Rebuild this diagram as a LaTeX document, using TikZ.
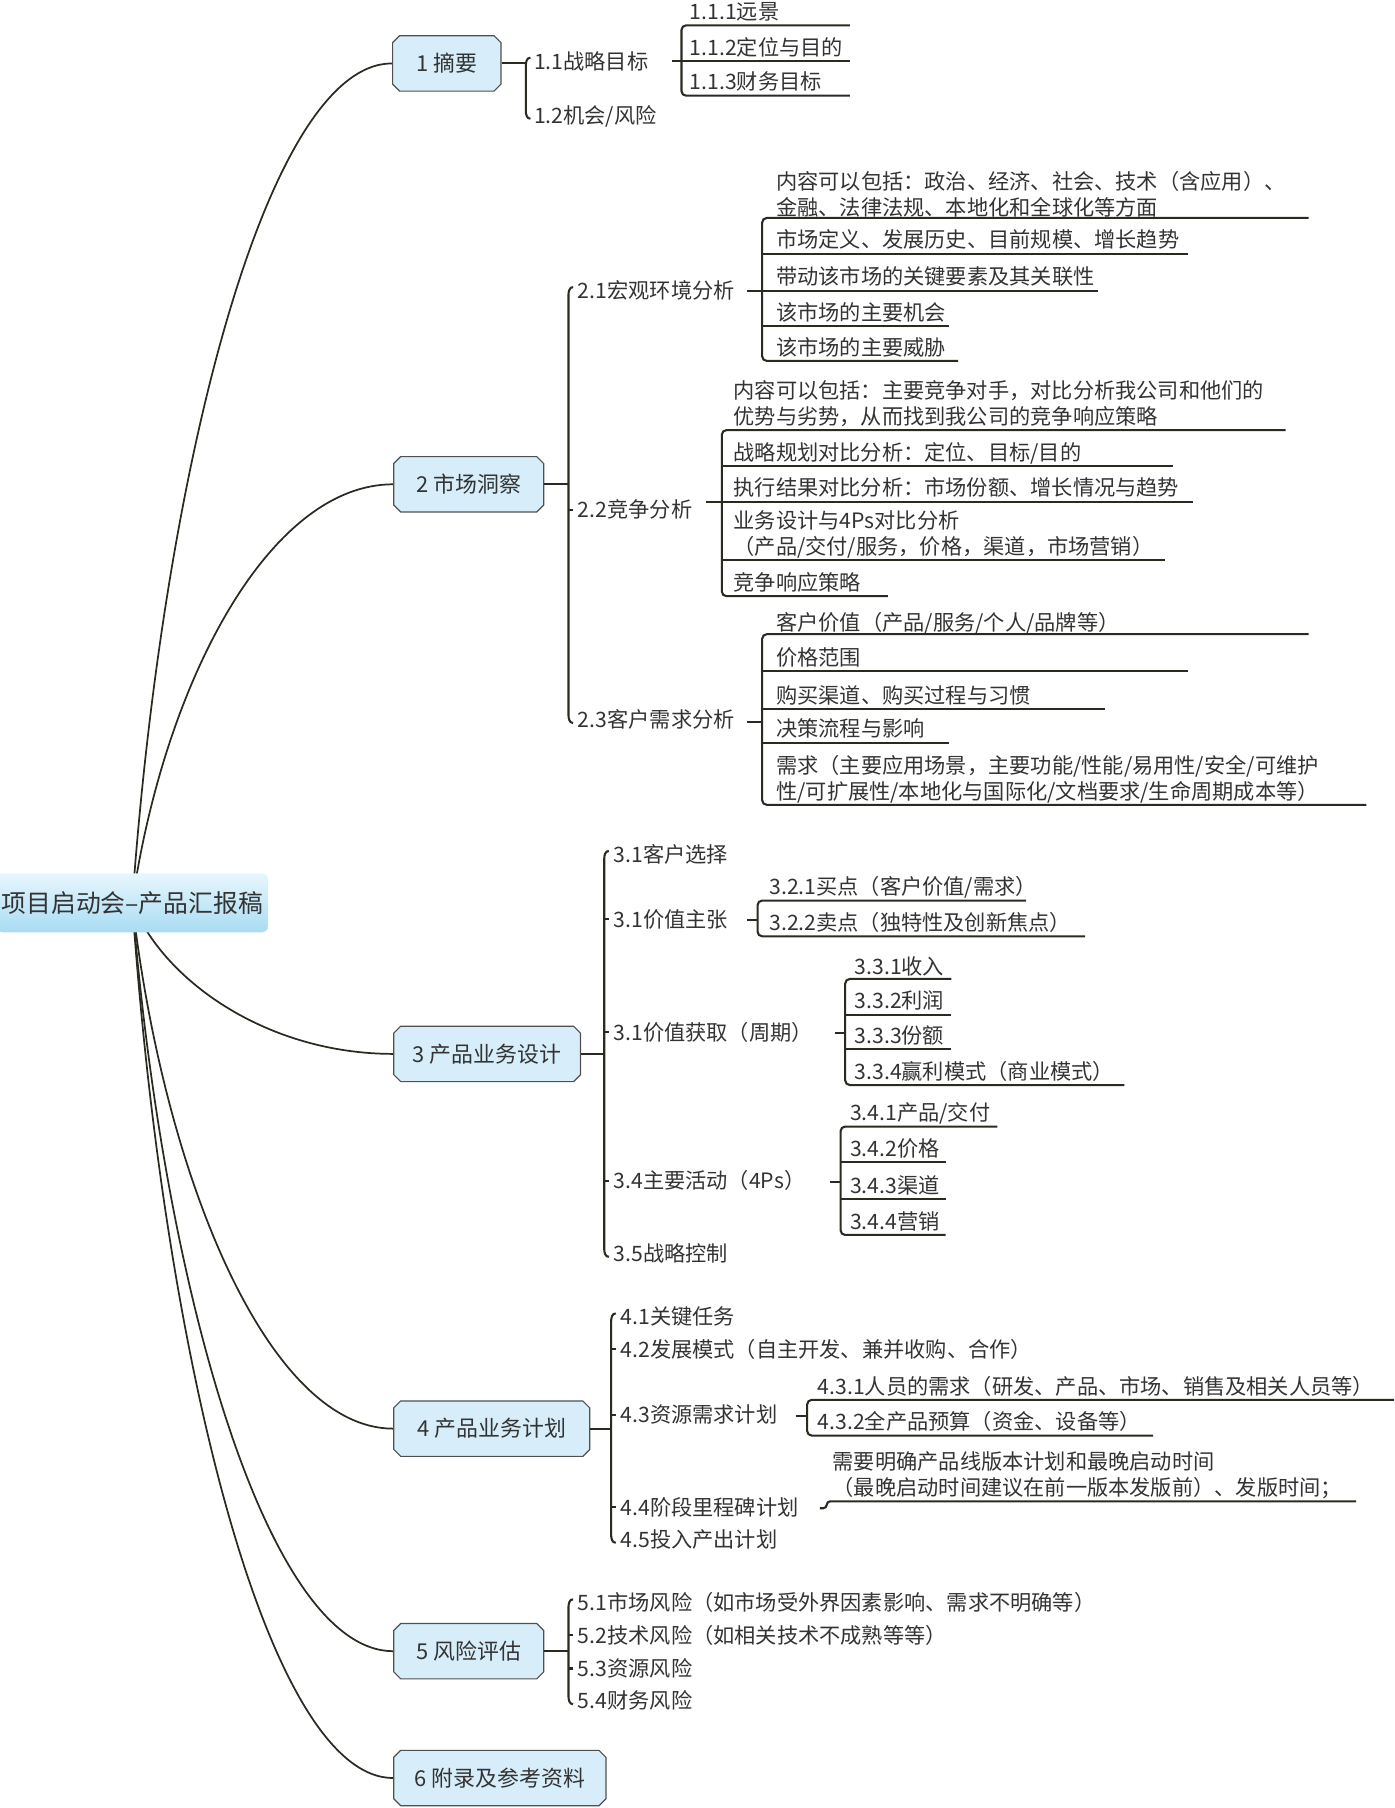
\documentclass[tikz,border=0pt]{standalone}
\usepackage{fontspec}
\setmainfont{Noto Sans CJK SC}
\usetikzlibrary{calc,shapes.misc,backgrounds}
\definecolor{ink}{HTML}{2B2A20}
\definecolor{txt}{HTML}{333333}
\definecolor{boxfill}{HTML}{D7EEFA}
\definecolor{boxline}{HTML}{505050}
\definecolor{roottop}{HTML}{E8F6FD}
\definecolor{rootbot}{HTML}{A8DCF3}
\newcommand\fs{\fontsize{18.4}{22}\selectfont}
\newcommand\twol[2]{\begin{tabular}[b]{@{}l@{}}#1\\#2\end{tabular}}
\newcommand\curlspine[3]{\draw[br] (#1+4,#2-3) to[out=180,in=90] (#1,#2+4) -- (#1,#3-4) to[out=-90,in=180] (#1+4,#3+3);}
\newcommand\rootcurve[1]{\draw[curve] let \p1=(root.center), \p2=(#1.west) in (\p1) .. controls ({\x1+0.12*(\x2-\x1)},{\y1+0.52*(\y2-\y1)}) and ({\x1+0.52*(\x2-\x1)},\y2) .. (\p2);}
\tikzset{
  curve/.style={draw=ink, line width=1.5pt},
  br/.style={draw=ink, line width=1.8pt},
  ul/.style={draw=ink, line width=1.8pt},
  lvl/.style={anchor=base west, inner sep=0pt, text=txt, font=\fs},
  ulv/.style={lvl, yshift=-2pt},
  mainbox/.style={chamfered rectangle, chamfered rectangle xsep=3pt, chamfered rectangle ysep=3pt,
    draw=boxline, line width=1pt, fill=boxfill, text=txt, minimum height=48pt, inner sep=0pt,
    anchor=west, font=\fontsize{19}{22}\selectfont},
  rootbox/.style={rounded corners=5pt, top color=roottop, bottom color=rootbot, draw=none,
    minimum width=235pt, minimum height=51pt, inner sep=0pt, anchor=west, text=txt,
    font=\fontsize{21.5}{24}\selectfont}
}
\begin{document}
\begin{tikzpicture}[x=1pt,y=-1pt]
\useasboundingbox (0,0) rectangle (1209,1568);
% root and main boxes
\node[rootbox] (root) at (-3,783) {项目启动会–产品汇报稿};
\node[mainbox, minimum width=94pt] (b1) at (340,55) {1 摘要};
\node[mainbox, minimum width=130pt] (b2) at (341,420) {2 市场洞察};
\node[mainbox, minimum width=162pt] (b3) at (341,914) {3 产品业务设计};
\node[mainbox, minimum width=170pt] (b4) at (341,1239) {4 产品业务计划};
\node[mainbox, minimum width=130pt] (b5) at (341,1432) {5 风险评估};
\node[mainbox, minimum width=184pt] (b6) at (341,1542) {6 附录及参考资料};
\begin{pgfonlayer}{background}
\rootcurve{b1}
\rootcurve{b2}
\rootcurve{b3}
\rootcurve{b4}
\rootcurve{b5}
\rootcurve{b6}
\end{pgfonlayer}

% ---------- 1 ----------
\node[lvl] (n11) at (463,60) {1.1战略目标};
\node[lvl] (n12) at (463,107) {1.2机会/风险};
\coordinate (s1) at (456,55);
\draw[br] (b1.east) -- (b1.east -| s1);
\curlspine{456}{53}{100}
\node[ulv] (n111) at (598,15) {1.1.1远景};
\node[ulv] (n112) at (598,46) {1.1.2定位与目的};
\node[ulv] (n113) at (598,76) {1.1.3财务目标};
\draw[ul, rounded corners=4pt] (737,22) -- (591,22) -- (591,83) -- (737,83);
\draw[ul] (583,53) -- (737,53);

% ---------- 2 ----------
\node[lvl] (n21) at (501,259) {2.1宏观环境分析};
\node[lvl] (n22) at (501,449) {2.2竞争分析};
\node[lvl] (n23) at (501,631) {2.3客户需求分析};
\coordinate (s2) at (493,420);
\draw[br] (b2.east) -- (b2.east -| s2);
\curlspine{493}{252}{624}
\draw[br] (493,442) -- (497,442);
% 2.1
\node[ulv] (n211) at (673,185) {\twol{内容可以包括：政治、经济、社会、技术（含应用）、}{金融、法律法规、本地化和全球化等方面}};
\node[ulv] (n212) at (673,213) {市场定义、发展历史、目前规模、增长趋势};
\node[ulv] (n213) at (673,245) {带动该市场的关键要素及其关联性};
\node[ulv] (n214) at (673,276) {该市场的主要机会};
\node[ulv] (n215) at (673,306) {该市场的主要威胁};
\draw[ul, rounded corners=4pt] (1135,189) -- (661,189) -- (661,313) -- (831,313);
\draw[ul] (661,220) -- (1030,220);
\draw[ul] (648,252) -- (952,252);
\draw[ul] (661,283) -- (823,283);
% 2.2
\node[ulv] (n221) at (636,366) {\twol{内容可以包括：主要竞争对手，对比分析我公司和他们的}{优势与劣势，从而找到我公司的竞争响应策略}};
\node[ulv] (n222) at (636,397) {战略规划对比分析：定位、目标/目的};
\node[ulv] (n223) at (636,428) {执行结果对比分析：市场份额、增长情况与趋势};
\node[ulv] (n224) at (636,479) {\twol{业务设计与4Ps对比分析}{（产品/交付/服务，价格，渠道，市场营销）}};
\node[ulv] (n225) at (636,510) {竞争响应策略};
\draw[ul, rounded corners=4pt] (1115,373) -- (626,373) -- (626,517) -- (770,517);
\draw[ul] (626,404) -- (1017,404);
\draw[ul] (612,435) -- (1035,435);
\draw[ul] (626,486) -- (1010,486);
% 2.3
\node[ulv] (n231) at (673,545) {客户价值（产品/服务/个人/品牌等）};
\node[ulv] (n232) at (673,575) {价格范围};
\node[ulv] (n233) at (673,608) {购买渠道、购买过程与习惯};
\node[ulv] (n234) at (673,637) {决策流程与影响};
\node[ulv] (n235) at (673,691) {\twol{需求（主要应用场景，主要功能/性能/易用性/安全/可维护}{性/可扩展性/本地化与国际化/文档要求/生命周期成本等）}};
\draw[ul, rounded corners=4pt] (1135,550) -- (661,550) -- (661,698) -- (1185,698);
\draw[ul] (661,582) -- (1030,582);
\draw[ul] (661,615) -- (958,615);
\draw[ul] (661,644) -- (823,644);
\draw[ul] (648,626) -- (661,626);

% ---------- 3 ----------
\node[lvl] (n31) at (532,748) {3.1客户选择};
\node[lvl] (n32) at (532,804) {3.1价值主张};
\node[lvl] (n33) at (532,902) {3.1价值获取（周期）};
\node[lvl] (n34) at (532,1031) {3.4主要活动（4Ps）};
\node[lvl] (n35) at (532,1094) {3.5战略控制};
\coordinate (s3) at (524,914);
\draw[br] (b3.east) -- (b3.east -| s3);
\curlspine{524}{741}{1087}
\draw[br] (524,797) -- (528,797);
\draw[br] (524,895) -- (528,895);
\draw[br] (524,1024) -- (528,1024);
% 3.2
\node[ulv] (n321) at (667,774) {3.2.1买点（客户价值/需求）};
\node[ulv] (n322) at (667,805) {3.2.2卖点（独特性及创新焦点）};
\draw[ul, rounded corners=4pt] (890,781) -- (657,781) -- (657,812) -- (941,812);
\draw[ul] (648,798) -- (657,798);
% 3.3
\node[ulv] (n331) at (741,843) {3.3.1收入};
\node[ulv] (n332) at (741,873) {3.3.2利润};
\node[ulv] (n333) at (741,903) {3.3.3份额};
\node[ulv] (n334) at (741,934) {3.3.4赢利模式（商业模式）};
\draw[ul, rounded corners=4pt] (825,849) -- (733,849) -- (733,941) -- (975,941);
\draw[ul] (733,880) -- (825,880);
\draw[ul] (733,910) -- (825,910);
\draw[ul] (724,896) -- (733,896);
% 3.4
\node[ulv] (n341) at (737,970) {3.4.1产品/交付};
\node[ulv] (n342) at (737,1001) {3.4.2价格};
\node[ulv] (n343) at (737,1033) {3.4.3渠道};
\node[ulv] (n344) at (737,1064) {3.4.4营销};
\draw[ul, rounded corners=4pt] (865,977) -- (729,977) -- (729,1071) -- (820,1071);
\draw[ul] (729,1008) -- (820,1008);
\draw[ul] (729,1040) -- (820,1040);
\draw[ul] (720,1025) -- (729,1025);

% ---------- 4 ----------
\node[lvl] (n41) at (538,1149) {4.1关键任务};
\node[lvl] (n42) at (538,1177) {4.2发展模式（自主开发、兼并收购、合作）};
\node[lvl] (n43) at (538,1234) {4.3资源需求计划};
\node[lvl] (n44) at (538,1314) {4.4阶段里程碑计划};
\node[lvl] (n45) at (538,1342) {4.5投入产出计划};
\coordinate (s4) at (530,1239);
\draw[br] (b4.east) -- (b4.east -| s4);
\curlspine{530}{1142}{1335}
\draw[br] (530,1170) -- (534,1170);
\draw[br] (530,1227) -- (534,1227);
\draw[br] (530,1307) -- (534,1307);
% 4.3
\node[ulv] (n431) at (709,1207) {4.3.1人员的需求（研发、产品、市场、销售及相关人员等）};
\node[ulv] (n432) at (709,1238) {4.3.2全产品预算（资金、设备等）};
\draw[ul, rounded corners=4pt] (1209,1214) -- (700,1214) -- (700,1245) -- (1000,1245);
\draw[ul] (690,1228) -- (700,1228);
% 4.4
\node[ulv] (n441) at (722,1295) {\twol{需要明确产品线版本计划和最晚启动时间}{（最晚启动时间建议在前一版本发版前）、发版时间；}};
\draw[ul, rounded corners=3pt] (711,1308) -- (717,1308) -- (717,1302) -- (1176,1302);

% ---------- 5 ----------
\node[lvl] (n51) at (501,1397) {5.1市场风险（如市场受外界因素影响、需求不明确等）};
\node[lvl] (n52) at (501,1425) {5.2技术风险（如相关技术不成熟等等）};
\node[lvl] (n53) at (501,1454) {5.3资源风险};
\node[lvl] (n54) at (501,1482) {5.4财务风险};
\coordinate (s5) at (493,1432);
\draw[br] (b5.east) -- (b5.east -| s5);
\curlspine{493}{1390}{1475}
\draw[br] (493,1418) -- (497,1418);
\draw[br] (493,1447) -- (497,1447);
\end{tikzpicture}
\end{document}
